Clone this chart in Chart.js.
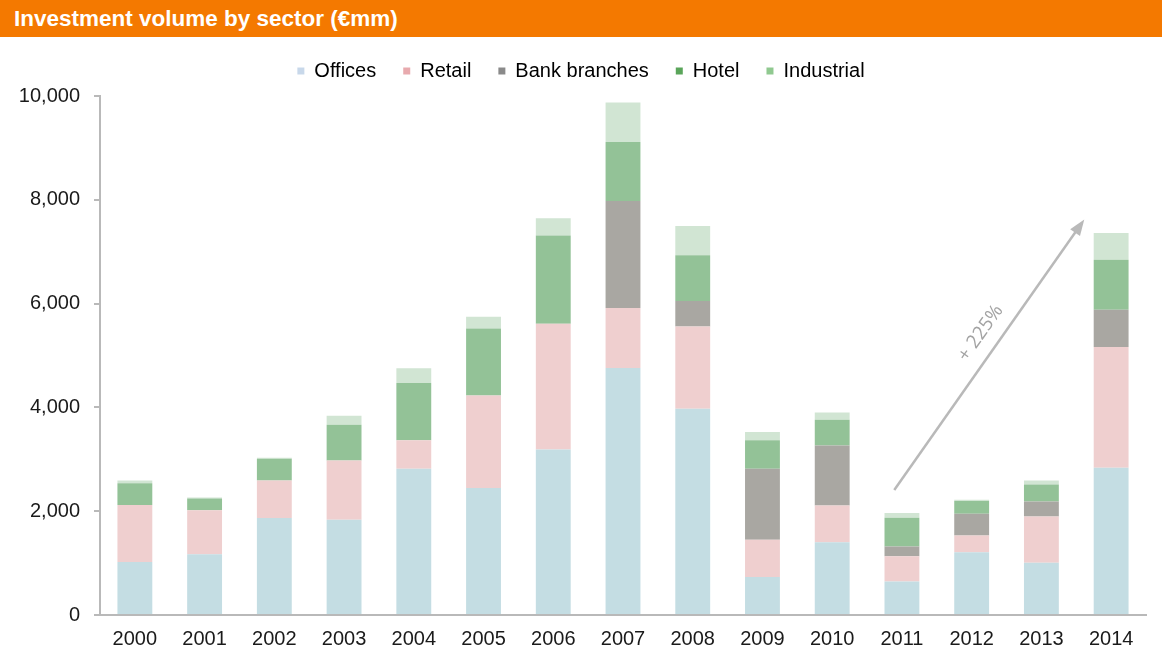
<!DOCTYPE html>
<html>
<head>
<meta charset="utf-8">
<script src="https://cdn.jsdelivr.net/npm/chart.js@4.4.1/dist/chart.umd.min.js"></script>
<style>
  body { margin: 0; background: #fff; width: 1162px; height: 653px; overflow: hidden; position: relative; }
  #title {
    position: absolute; left: 0; top: 0; width: 1162px; height: 37px;
    background: #f47900; color: #fff; z-index: 2;
    font: bold 22.5px "Liberation Sans", Arial, sans-serif;
    line-height: 37px; padding-left: 14px; box-sizing: border-box;
  }
  #wrap { position: absolute; left: 0; top: 37px; width: 1162px; height: 616px; }
</style>
</head>
<body>
<div id="title">Investment volume by sector (€mm)</div>
<div id="wrap"><canvas id="chart_inv"></canvas></div>
<script>
const years = ['2000', '2001', '2002', '2003', '2004', '2005', '2006', '2007', '2008', '2009', '2010', '2011', '2012', '2013', '2014'];
const offices    = [1020, 1170, 1870, 1835, 2820, 2445, 3190, 4757, 3975, 730, 1404, 646, 1210, 1006, 2837];
const retail     = [1100, 850, 720, 1140, 545, 1785, 2420, 1157, 1586, 720, 707, 488, 320, 893, 2325];
const bank       = [0, 0, 0, 0, 0, 0, 0, 2062, 488, 1370, 1156, 186, 420, 289, 721];
const hotel      = [420, 225, 420, 690, 1105, 1290, 1700, 1137, 881, 545, 495, 553, 245, 327, 964];
const industrial = [50, 20, 20, 175, 285, 225, 335, 760, 564, 160, 141, 90, 25, 77, 512];
const yTicks = [0, 2000, 4000, 6000, 8000, 10000];
// arrow from / to, in (category index, value)
const arrowFrom = [10.89, 2410];
const arrowTo = [13.615, 7620];
const arrowText = '+ 225%';
const arrowTextAt = [12.13, 5430];

const barColors = ['#c4dde3', '#efcfcf', '#a9a7a2', '#93c297', '#d1e5d3'];
const legendColors = ['#c8d8ea', '#e8aaae', '#8a8a8a', '#5aa55a', '#90c990'];
const tickFont = { size: 20, family: '"Liberation Sans", Arial, sans-serif' };

// legend sits a bit higher above the plot than Chart.js puts it, and centred on the page
const legendLift = {
  id: 'legendLift',
  afterLayout(chart) {
    chart.legend.top -= 5;
    chart.legend.bottom -= 5;
    chart.legend.left += 8;
    chart.legend.right += 8;
  }
};

const arrowPlugin = {
  id: 'arrow',
  afterDatasetsDraw(chart) {
    const ctx = chart.ctx, x = chart.scales.x, y = chart.scales.y;
    const x1 = x.getPixelForValue(arrowFrom[0]), y1 = y.getPixelForValue(arrowFrom[1]);
    const x2 = x.getPixelForValue(arrowTo[0]), y2 = y.getPixelForValue(arrowTo[1]);
    const ang = Math.atan2(y2 - y1, x2 - x1);
    const head = 16;
    ctx.save();
    ctx.strokeStyle = '#b9b9b9';
    ctx.fillStyle = '#b9b9b9';
    ctx.lineWidth = 2.5;
    ctx.beginPath();
    ctx.moveTo(x1, y1);
    ctx.lineTo(x2 - head * 0.8 * Math.cos(ang), y2 - head * 0.8 * Math.sin(ang));
    ctx.stroke();
    ctx.beginPath();
    ctx.moveTo(x2, y2);
    ctx.lineTo(x2 - head * Math.cos(ang) + 6 * Math.sin(ang), y2 - head * Math.sin(ang) - 6 * Math.cos(ang));
    ctx.lineTo(x2 - head * Math.cos(ang) - 6 * Math.sin(ang), y2 - head * Math.sin(ang) + 6 * Math.cos(ang));
    ctx.closePath();
    ctx.fill();
    const tx = x.getPixelForValue(arrowTextAt[0]), ty = y.getPixelForValue(arrowTextAt[1]);
    ctx.translate(tx, ty);
    ctx.rotate(ang);
    ctx.fillStyle = '#a3a3a3';
    ctx.font = '19px "Open Sans", "Liberation Sans", Arial, sans-serif';
    ctx.textAlign = 'center';
    ctx.textBaseline = 'middle';
    ctx.fillText(arrowText, 0, 0);
    ctx.restore();
  }
};

const ctx_inv = document.getElementById('chart_inv').getContext('2d');
const inv = new Chart(ctx_inv, {
  type: 'bar',
  data: {
    labels: years,
    datasets: [
      { label: 'Offices', data: offices, backgroundColor: barColors[0] },
      { label: 'Retail', data: retail, backgroundColor: barColors[1] },
      { label: 'Bank branches', data: bank, backgroundColor: barColors[2] },
      { label: 'Hotel', data: hotel, backgroundColor: barColors[3] },
      { label: 'Industrial', data: industrial, backgroundColor: barColors[4] }
    ]
  },
  options: {
    responsive: true,
    maintainAspectRatio: false,
    animation: false,
    layout: { padding: { top: 0, right: 16, left: 0, bottom: 0 } },
    datasets: { bar: { categoryPercentage: 0.5, barPercentage: 1 } },
    plugins: {
      legend: {
        display: true,
        maxHeight: 59,
        labels: {
          boxWidth: 7,
          boxHeight: 7,
          padding: 27,
          color: '#1a1a1a',
          font: tickFont,
          generateLabels(chart) {
            return chart.data.datasets.map((ds, i) => ({
              text: ds.label,
              fillStyle: legendColors[i],
              strokeStyle: legendColors[i],
              lineWidth: 0,
              datasetIndex: i,
              hidden: false
            }));
          }
        }
      },
      tooltip: { enabled: false }
    },
    scales: {
      x: {
        stacked: true,
        afterFit(scale) { scale.height = 38; },
        grid: { display: false, drawTicks: false },
        border: { color: '#b9b9b9', width: 2 },
        ticks: { color: '#1a1a1a', padding: 12, font: tickFont }
      },
      y: {
        stacked: true,
        min: 0,
        max: 10000,
        afterFit(scale) { scale.width = 100; scale.paddingTop = 59; },
        afterBuildTicks(scale) { scale.ticks = yTicks.map(v => ({ value: v })); },
        grid: { display: true, drawOnChartArea: false, drawTicks: true, tickLength: 6, color: '#b9b9b9', lineWidth: 2 },
        border: { color: '#b9b9b9', width: 2 },
        ticks: {
          color: '#1a1a1a',
          padding: 14,
          font: tickFont,
          callback: v => v.toLocaleString('en-US')
        }
      }
    }
  },
  plugins: [arrowPlugin, legendLift]
});
</script>
</body>
</html>
